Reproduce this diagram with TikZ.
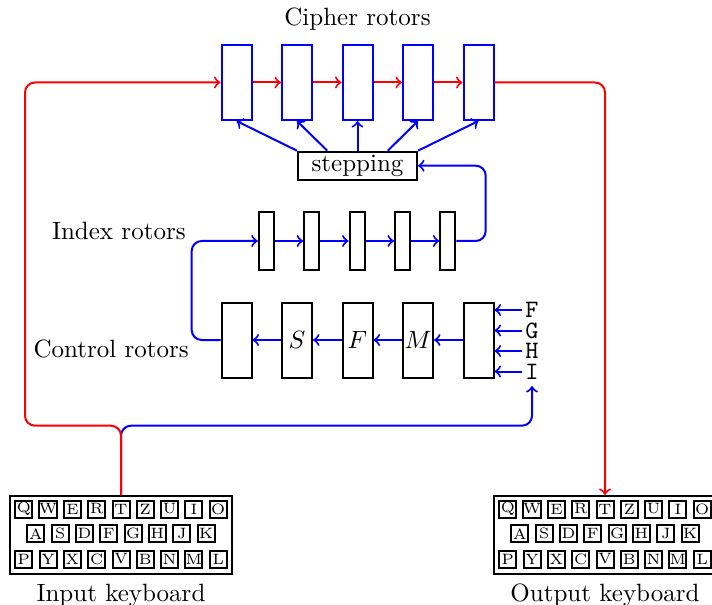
\documentclass[tikz,border=0pt]{standalone}
\usetikzlibrary{calc,positioning}

\tikzset{
  rotor/.style={draw, thick, minimum width=12pt, minimum height=30pt, inner sep=0pt},
  cipher/.style={rotor, draw=blue},
  index/.style={draw, thick, minimum width=6pt, minimum height=23.5pt, inner sep=0pt},
  stepbox/.style={draw, thick, minimum width=47.6pt, minimum height=11.2pt, inner xsep=2pt, inner ysep=1pt},
  letter/.style={font=\ttfamily, inner xsep=1pt, inner ysep=0.5pt},
  key/.style={draw, thick, minimum size=6.8pt, inner sep=0pt, font=\fontsize{6}{7}\selectfont},
  board/.style={draw, thick, minimum width=88.8pt, minimum height=31.2pt},
  sig/.style={thick, ->},
}

\begin{document}
\begin{tikzpicture}[x=0.4pt,y=0.4pt,yscale=-1]
\useasboundingbox (0,0) rectangle (712,605);

% rotor banks
\foreach \i/\t in {1/{},2/$S$,3/$F$,4/$M$,5/{}} {
  \node[cipher] (c\i) at ({176+60.5*\i},82.5) {};
  \node[rotor] (k\i) at ({176+60.5*\i},340) {\t};
  \node[index] (x\i) at ({220.9+45.4*\i},241) {};
}
\node[stepbox] (step) at (357.5,165.7) {stepping};

% labels
\node (ciphlbl) [above=1.8pt of c3] {Cipher rotors};
\node (idxlbl) [anchor=east] at (194.5,231.4) {Index rotors};
\node (ctrllbl) [anchor=east] at (197.6,348.5) {Control rotors};

% control inputs
\foreach \l/\y in {F/310,G/330.5,H/351,I/371.5}
  \node[letter] (l\l) at (532,\y) {\l};
\coordinate (lIfoot) at (532,386);

% keyboards
\foreach \kb/\kx in {inkb/121,outkb/605} {
  \node[board] (\kb) at (\kx,535) {};
  \foreach \c [count=\n] in {Q,W,E,R,T,Z,U,I,O}
    \node[key] (\kb-\c) at ({\kx+24.3*(\n-5)},509) {\c};
  \foreach \c [count=\n] in {A,S,D,F,G,H,J,K}
    \node[key] (\kb-\c) at ({\kx+24.3*(\n-4.5)},533.8) {\c};
  \foreach \c [count=\n] in {P,Y,X,C,V,B,N,M,L}
    \node[key] (\kb-\c) at ({\kx+24.3*(\n-5)},559) {\c};
}
\node (inlbl) [below=0pt of inkb] {Input keyboard};
\node (outlbl) [below=0pt of outkb] {Output keyboard};

\coordinate (split) at (121,425.7);
\coordinate (redleft) at (25,425.7);
\coordinate (idxleft) at (191.7,241);
\coordinate (idxright) at (485.7,241);

% control path
\draw[sig, blue, rounded corners] (inkb.north) -- (split) -- (split -| lIfoot) -- (lIfoot);
\foreach \l in {F,G,H,I}
  \draw[sig, blue] (l\l.west) -- (l\l.west -| k5.east);
\foreach \i [evaluate=\i as \j using int(\i+1)] in {1,...,4} {
  \draw[sig, blue] (k\j.west) -- (k\i.east);
  \draw[sig, blue] (x\i.east) -- (x\j.west);
}
\draw[sig, blue, rounded corners] (k1.west) -- (idxleft |- k1.west) -- (idxleft) -- (x1.west);
\draw[sig, blue, rounded corners] (x5.east) -- (idxright) -- (idxright |- step.east) -- (step.east);

% stepping
\draw[sig, blue] (step.north west) -- (c1.south);
\draw[sig, blue] ($(step.north west)!0.25!(step.north east)$) -- (c2.south);
\draw[sig, blue] (step.north) -- (c3.south);
\draw[sig, blue] ($(step.north west)!0.75!(step.north east)$) -- (c4.south);
\draw[sig, blue] (step.north east) -- (c5.south);

% cipher path
\draw[sig, red, rounded corners] (inkb.north) -- (split) -- (redleft) -- (redleft |- c1) -- (c1.west);
\foreach \i [evaluate=\i as \j using int(\i+1)] in {1,...,4}
  \draw[sig, red] (c\i.east) -- (c\j.west);
\draw[sig, red, rounded corners] (c5.east) -- (c5.east -| outkb.north) -- (outkb.north);

\end{tikzpicture}
\end{document}
